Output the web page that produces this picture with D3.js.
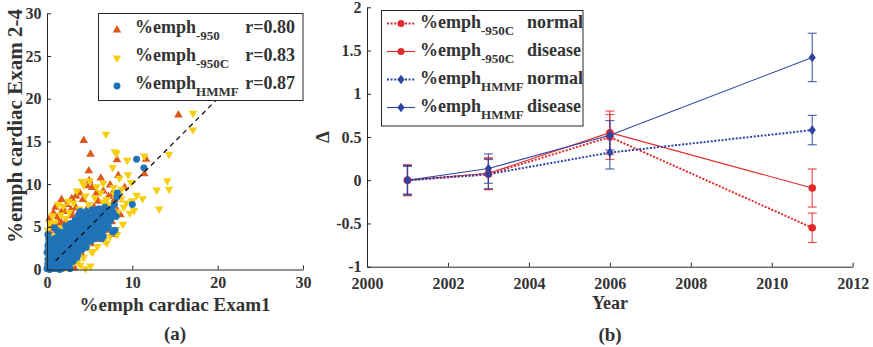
<!DOCTYPE html>
<html><head><meta charset="utf-8">
<script src="https://cdn.jsdelivr.net/npm/d3@7"></script>
<style>body{margin:0;background:#fff}svg{display:block}text{font-family:"Liberation Serif","Times New Roman",serif;font-weight:bold;fill:#333}</style>
</head><body><svg id="c" width="873" height="347"></svg>
<script>
// ---------- Panel (a) data: scatter %emph Exam1 vs Exam 2-4 ----------
const emph950 = [[15.4,18.1],[4.3,15.1],[5.1,13.5],[11.6,12.9],[8.2,12.85],[11.4,11.2],[4.9,11.55],[8.35,11.0],[6.3,10.7],[4.95,10.4],[4.7,9.8],[7.6,8.75],[3.2,0.2],
[1.45,5.85],[0.75,6.6],[1.7,8.2],[3.85,8.95],[5.8,8.95],[7.4,9.9],[7.2,8.55],[7.95,8.2],[7.95,4.1],
[2.3,7.6],[2.9,8.3],[3.4,7.2],[4.2,8.2],[5.3,9.6],[6.0,8.0],[6.6,9.2],[6.9,7.5],[5.5,7.3],[4.6,6.9],[3.0,6.3],[2.2,5.6],[1.1,4.6],[0.4,3.6],[0.2,2.6],[0.5,5.2],[0.3,1.6],[1.8,6.9],[2.6,5.0],[3.6,5.9],[4.1,5.4],[5.0,6.1],[6.2,6.6],[7.1,6.1],[8.0,7.3],[8.6,6.4],[7.6,5.6],[6.5,4.9],[5.6,4.2],[4.6,3.3],[3.6,2.4],[2.6,1.5],[1.8,0.8],[1.0,0.4],[0.6,0.1],[2.4,0.6],[3.0,1.2],[4.0,1.9],[5.2,3.0],[6.1,3.5],[7.3,4.6],[0.1,0.9],[0.9,2.4],[1.5,3.3],[2.0,4.1],[2.8,3.6],[3.3,4.5],[4.4,4.6],[5.9,5.4],[1.3,1.6],[0.7,1.1],[1.9,2.3],[2.5,2.8],[0.2,0.3],[0.5,0.7],[1.2,0.9],[0.3,4.3],[1.0,7.3],[9.1,9.6],
[0.3,6.0],[1.0,5.3],[0.6,4.8],[1.6,5.4],[2.1,6.8],[2.8,7.0],[1.3,6.2],[3.4,8.6]];
const emph950C = [[17.1,18.3],[17.1,16.35],[6.9,15.85],[7.95,13.8],[8.15,13.6],[14.3,13.5],[11.4,13.3],[9.4,12.8],[7.7,11.95],[9.5,11.1],[8.5,10.7],[5.0,10.4],[6.6,10.1],[9.85,10.2],[14.1,10.4],[12.85,9.3],[14.3,9.4],[13.15,7.1],[11.2,8.3],[10.5,8.7],[10.0,8.05],[9.7,6.6],[8.75,9.4],[5.1,0.4],
[0.3,5.4],[0.6,6.3],[1.3,7.6],[1.9,7.4],[2.6,6.7],[3.1,7.8],[3.8,7.1],[4.5,8.6],[4.9,7.6],[5.6,8.4],[6.3,9.0],[7.0,8.2],[7.7,7.0],[8.3,6.7],[9.0,7.3],[8.9,5.3],[8.1,4.7],[7.4,3.9],[6.7,3.4],[5.9,2.7],[5.2,2.1],[4.3,1.4],[3.6,0.9],[2.9,0.5],[2.1,0.2],[1.3,0.1],[0.7,0.3],[0.2,0.5],[0.1,1.8],[0.4,2.9],[0.8,3.9],[1.5,4.9],[2.2,6.0],[2.9,5.4],[3.5,4.2],[4.2,3.5],[4.9,4.9],[5.5,5.6],[6.2,5.2],[6.8,6.2],[7.3,7.6],[6.0,7.0],[4.0,6.2],[3.3,3.0],[2.5,2.2],[1.8,1.5],[1.1,1.0],[0.5,1.3],[1.6,2.7],[2.3,3.5],[3.0,4.4],[3.7,5.3],[4.6,5.9],[5.3,6.8],[0.9,5.5],[1.6,6.4],[2.5,8.0],[3.5,9.2],[4.3,9.9],[5.8,9.7],[6.6,7.9],[7.9,8.8],[8.7,8.3],[9.3,7.8],[10.2,6.9],[6.4,4.3],[5.6,3.7],[4.7,2.6],[3.9,2.1],[3.2,1.6],[2.6,1.0],[1.8,0.5],[4.5,0.1],[3.9,0.5],[0.2,3.7],[0.1,4.6],[7.8,9.6],[4.1,10.3],
[7.0,3.1],[5.4,2.1],[8.2,4.1]];
const emphHMMF = [[10.5,12.9],[11.35,11.9],[10.0,7.6],[8.25,8.95],[7.95,4.6],[7.0,4.85],[3.9,6.8],[1.2,4.55],[2.7,0.1],[8.2,8.5],
[0.0,0.1],[0.1,0.4],[0.2,0.8],[0.1,1.2],[0.3,1.6],[0.0,2.0],[0.2,2.4],[0.4,0.2],[0.5,0.6],[0.4,1.0],[0.5,1.4],[0.3,1.9],[0.5,2.2],[0.1,2.8],[0.3,0.0],[0.2,3.1],[0.2,3.6],[0.1,4.1],[0.9,4.9],[0.5,3.3],
[0.6,0.1],[0.7,0.5],[0.8,0.9],[0.6,1.3],[0.9,1.7],[0.7,2.1],[1.0,2.5],[0.8,2.9],[0.9,0.2],[1.0,0.7],[0.7,3.3],[1.0,1.2],[0.9,3.6],
[1.1,0.1],[1.2,0.5],[1.3,1.0],[1.1,1.5],[1.4,1.9],[1.2,2.3],[1.5,2.8],[1.3,3.2],[1.4,0.3],[1.5,1.2],[1.1,3.7],[1.4,4.1],[1.5,0.0],[1.2,2.6],
[1.6,0.4],[1.7,0.9],[1.8,1.4],[1.6,1.8],[1.9,2.2],[1.7,2.7],[2.0,3.1],[1.8,3.6],[1.6,4.0],[1.9,4.4],[2.0,0.6],[2.0,1.7],[1.7,0.1],
[2.1,0.3],[2.2,0.9],[2.3,1.4],[2.1,2.0],[2.4,2.4],[2.2,2.9],[2.5,3.3],[2.3,3.8],[2.1,4.3],[2.4,4.7],[2.5,1.1],[2.5,1.9],[2.3,0.5],[2.2,5.1],
[2.6,0.7],[2.7,1.3],[2.8,1.8],[2.6,2.3],[2.9,2.7],[2.7,3.2],[3.0,3.6],[2.8,4.1],[2.6,4.6],[2.9,5.0],[3.0,1.5],[3.0,2.3],[2.8,5.4],[2.9,0.9],
[3.1,1.0],[3.2,1.6],[3.3,2.1],[3.1,2.7],[3.4,3.1],[3.2,3.6],[3.5,4.0],[3.3,4.5],[3.1,5.0],[3.4,5.4],[3.5,2.5],[3.3,5.8],[3.5,1.4],
[3.6,1.7],[3.7,2.2],[3.8,2.8],[3.6,3.3],[3.9,3.7],[3.7,4.2],[4.0,4.7],[3.8,5.1],[3.6,5.6],[3.9,6.0],[4.0,3.0],[3.7,6.4],
[4.1,2.3],[4.2,2.9],[4.3,3.4],[4.1,3.9],[4.4,4.3],[4.2,4.8],[4.5,5.3],[4.3,5.7],[4.1,6.2],[4.4,6.6],[4.5,3.7],
[4.6,2.6],[4.7,3.2],[4.8,3.8],[4.6,4.4],[4.9,4.9],[4.7,5.4],[5.0,5.9],[4.8,6.3],[4.6,6.8],[5.0,4.0],
[5.1,3.3],[5.2,3.9],[5.3,4.4],[5.1,5.0],[5.4,5.5],[5.2,6.0],[5.5,6.5],[5.3,7.0],[5.5,4.7],
[5.6,3.6],[5.7,4.3],[5.8,4.9],[5.6,5.5],[5.9,6.0],[5.7,6.6],[6.0,7.1],[5.8,3.9],
[6.1,4.2],[6.2,4.8],[6.3,5.4],[6.1,6.0],[6.4,6.5],[6.2,7.1],[6.5,5.1],[6.4,3.6],
[6.6,4.6],[6.8,5.3],[6.7,6.0],[6.9,6.7],[6.8,7.3],[7.0,5.6],[6.6,3.9],
[7.2,5.0],[7.4,5.7],[7.3,6.5],[7.6,7.1],[7.5,6.0],[7.8,6.6],[7.9,7.6],[7.7,4.4],[8.1,6.2]];
const scatterLabels = ["-950","-950C","HMMF"];
const rValues = ["r=0.80","r=0.83","r=0.87"];
const ticksA = [0,10,20,30];
const ticksAy = [0,5,10,15,20,25,30];

// ---------- Panel (b) data: change over years ----------
const years = [2001,2003,2006,2011];
const c950C_normal  = [0,0.07,0.50,-0.55];
const c950C_normalE = [0.18,0.18,0.26,0.17];
const c950C_disease = [0,0.08,0.55,-0.09];
const c950C_diseaseE= [0.17,0.18,0.25,0.22];
const hmmf_normal   = [0,0.07,0.32,0.58];
const hmmf_normalE  = [0.16,0.17,0.19,0.17];
const hmmf_disease  = [0,0.135,0.52,1.42];
const hmmf_diseaseE = [0.17,0.17,0.17,0.28];
const seriesNames = [["-950C","normal"],["-950C","disease"],["HMMF","normal"],["HMMF","disease"]];
const ticksBx = [2000,2002,2004,2006,2008,2010,2012];
const ticksBy = [-1,-0.5,0,0.5,1,1.5,2];

const svg = d3.select("#c");
const AX = "#262626";
const ORANGE="#dd5a1c", YELLOW="#f7cf12", BLUE="#2173b8";
const RED="#e3292b", DBLUE="#2e44a3";

// ---------- Panel (a) ----------
const xA = d3.scaleLinear([0,30],[47,303]);
const yA = d3.scaleLinear([0,30],[269.5,13.3]);
const gA = svg.append("g");
const tri = d3.symbol().type(d3.symbolTriangle).size(32);
const circ = d3.symbol().type(d3.symbolCircle).size(38);
gA.append("g").selectAll("path").data(emph950).join("path")
  .attr("d",tri).attr("transform",d=>`translate(${xA(d[0])},${yA(d[1])})`).attr("fill",ORANGE);
gA.append("g").selectAll("path").data(emph950C).join("path")
  .attr("d",tri).attr("transform",d=>`translate(${xA(d[0])},${yA(d[1])}) rotate(180)`).attr("fill",YELLOW);
gA.append("g").selectAll("path").data(emphHMMF).join("path")
  .attr("d",circ).attr("transform",d=>`translate(${xA(d[0])},${yA(d[1])})`).attr("fill",BLUE);
gA.append("line").attr("x1",xA(1)).attr("y1",yA(1)).attr("x2",xA(30)).attr("y2",yA(30))
  .attr("stroke","#111").attr("stroke-width",1.3).attr("stroke-dasharray","5,4");

const axA_x = gA.append("g").attr("transform",`translate(0,${yA(0)})`)
  .call(d3.axisBottom(xA).tickValues(ticksA).tickFormat(String).tickSizeInner(-4).tickSizeOuter(0).tickPadding(7.5));
const axA_y = gA.append("g").attr("transform",`translate(${xA(0)},0)`)
  .call(d3.axisLeft(yA).tickValues(ticksAy).tickFormat(String).tickSizeInner(-4).tickSizeOuter(0).tickPadding(5.5));
[axA_x,axA_y].forEach(a=>{a.selectAll("path,line").attr("stroke",AX);a.selectAll("text").attr("font-size",16).attr("fill","#333").attr("font-family",null);});

gA.append("text").attr("x",175).attr("y",311).attr("text-anchor","middle").attr("font-size",19).text("%emph cardiac Exam1");
gA.append("text").attr("transform","translate(22,126) rotate(-90)").attr("text-anchor","middle").attr("font-size",21).text("%emph cardiac Exam 2-4");
gA.append("text").attr("x",175).attr("y",340).attr("text-anchor","middle").attr("font-size",19).text("(a)");

// legend (a)
const legA = gA.append("g");
legA.append("rect").attr("x",98.5).attr("y",13.5).attr("width",204.5).attr("height",87).attr("fill","#fff").attr("stroke",AX).attr("stroke-width",1);
const legSyms = [[tri,ORANGE,0],[tri,YELLOW,180],[circ,BLUE,0]];
scatterLabels.forEach((lab,i)=>{
  const cy = 30 + i*28;
  legA.append("path").attr("d",legSyms[i][0]).attr("fill",legSyms[i][1])
    .attr("transform",`translate(117,${cy}) rotate(${legSyms[i][2]})`);
  const t = legA.append("text").attr("x",135).attr("y",cy+3).attr("font-size",18);
  t.append("tspan").text("%emph");
  t.append("tspan").attr("dy",7).attr("font-size",13).text(lab);
  legA.append("text").attr("x",295).attr("y",cy+3).attr("text-anchor","end").attr("font-size",18).text(rValues[i]);
});

// ---------- Panel (b) ----------
const xB = d3.scaleLinear([2000,2012],[367,852.7]);
const yB = d3.scaleLinear([-1,2],[266.7,7.3]);
const gB = svg.append("g");
const axB_x = gB.append("g").attr("transform",`translate(0,${yB(-1)})`)
  .call(d3.axisBottom(xB).tickValues(ticksBx).tickFormat(String).tickSizeInner(-4).tickSizeOuter(0).tickPadding(10.5));
const axB_y = gB.append("g").attr("transform",`translate(${xB(2000)},0)`)
  .call(d3.axisLeft(yB).tickValues(ticksBy).tickFormat(String).tickSizeInner(-4).tickSizeOuter(0).tickPadding(5.5));
[axB_x,axB_y].forEach(a=>{a.selectAll("path,line").attr("stroke",AX);a.selectAll("text").attr("font-size",16).attr("fill","#333").attr("font-family",null);});

const series = [
  {v:c950C_normal, e:c950C_normalE, c:RED, dash:true, m:"circle"},
  {v:c950C_disease,e:c950C_diseaseE,c:RED, dash:false,m:"circle"},
  {v:hmmf_normal,  e:hmmf_normalE,  c:DBLUE,dash:true, m:"diamond"},
  {v:hmmf_disease, e:hmmf_diseaseE, c:DBLUE,dash:false,m:"diamond"}
];
const diamond = "M0,-4.8L3.6,0L0,4.8L-3.6,0Z";
const line = d3.line().x(d=>xB(d[0])).y(d=>yB(d[1]));
series.forEach(s=>{
  const pts = years.map((y,i)=>[y,s.v[i],s.e[i]]);
  const g = gB.append("g");
  g.append("path").attr("d",line(pts)).attr("fill","none").attr("stroke",s.c)
    .attr("stroke-width",s.dash?2:1.1).attr("stroke-dasharray",s.dash?"2,1.6":null);
  const eb = g.append("g").attr("stroke",s.c).attr("stroke-opacity",0.8).attr("stroke-width",1.2);
  pts.forEach(p=>{
    const x=xB(p[0]), y1=yB(p[1]+p[2]), y2=yB(p[1]-p[2]);
    eb.append("line").attr("x1",x).attr("x2",x).attr("y1",y1).attr("y2",y2);
    eb.append("line").attr("x1",x-4.5).attr("x2",x+4.5).attr("y1",y1).attr("y2",y1);
    eb.append("line").attr("x1",x-4.5).attr("x2",x+4.5).attr("y1",y2).attr("y2",y2);
  });
  pts.forEach(p=>{
    if(s.m==="circle") g.append("circle").attr("cx",xB(p[0])).attr("cy",yB(p[1])).attr("r",3.8).attr("fill",s.c);
    else g.append("path").attr("d",diamond).attr("transform",`translate(${xB(p[0])},${yB(p[1])})`).attr("fill",s.c);
  });
});

gB.append("text").attr("x",610).attr("y",309).attr("text-anchor","middle").attr("font-size",18).text("Year");
gB.append("text").attr("x",610).attr("y",341).attr("text-anchor","middle").attr("font-size",19).text("(b)");
gB.append("text").attr("transform","translate(329,137) rotate(-90)").attr("text-anchor","middle").attr("font-size",19).text("Δ");

// legend (b)
const legB = gB.append("g");
legB.append("rect").attr("x",381.5).attr("y",10.5).attr("width",201.5).attr("height",115.5).attr("fill","#fff").attr("stroke",AX).attr("stroke-width",1);
series.forEach((s,i)=>{
  const cy = 23.5 + i*28;
  legB.append("line").attr("x1",387).attr("x2",415).attr("y1",cy).attr("y2",cy).attr("stroke",s.c)
    .attr("stroke-width",s.dash?2:1.1).attr("stroke-dasharray",s.dash?"2,1.6":null);
  if(s.m==="circle") legB.append("circle").attr("cx",401).attr("cy",cy).attr("r",3.5).attr("fill",s.c);
  else legB.append("path").attr("d",diamond).attr("transform",`translate(401,${cy})`).attr("fill",s.c);
  const t = legB.append("text").attr("x",420).attr("y",cy+4).attr("font-size",18);
  t.append("tspan").text("%emph");
  t.append("tspan").attr("dy",7).attr("font-size",13).text(seriesNames[i][0]);
  legB.append("text").attr("x",527).attr("y",cy+4).attr("font-size",18).text(seriesNames[i][1]);
});
</script></body></html>
